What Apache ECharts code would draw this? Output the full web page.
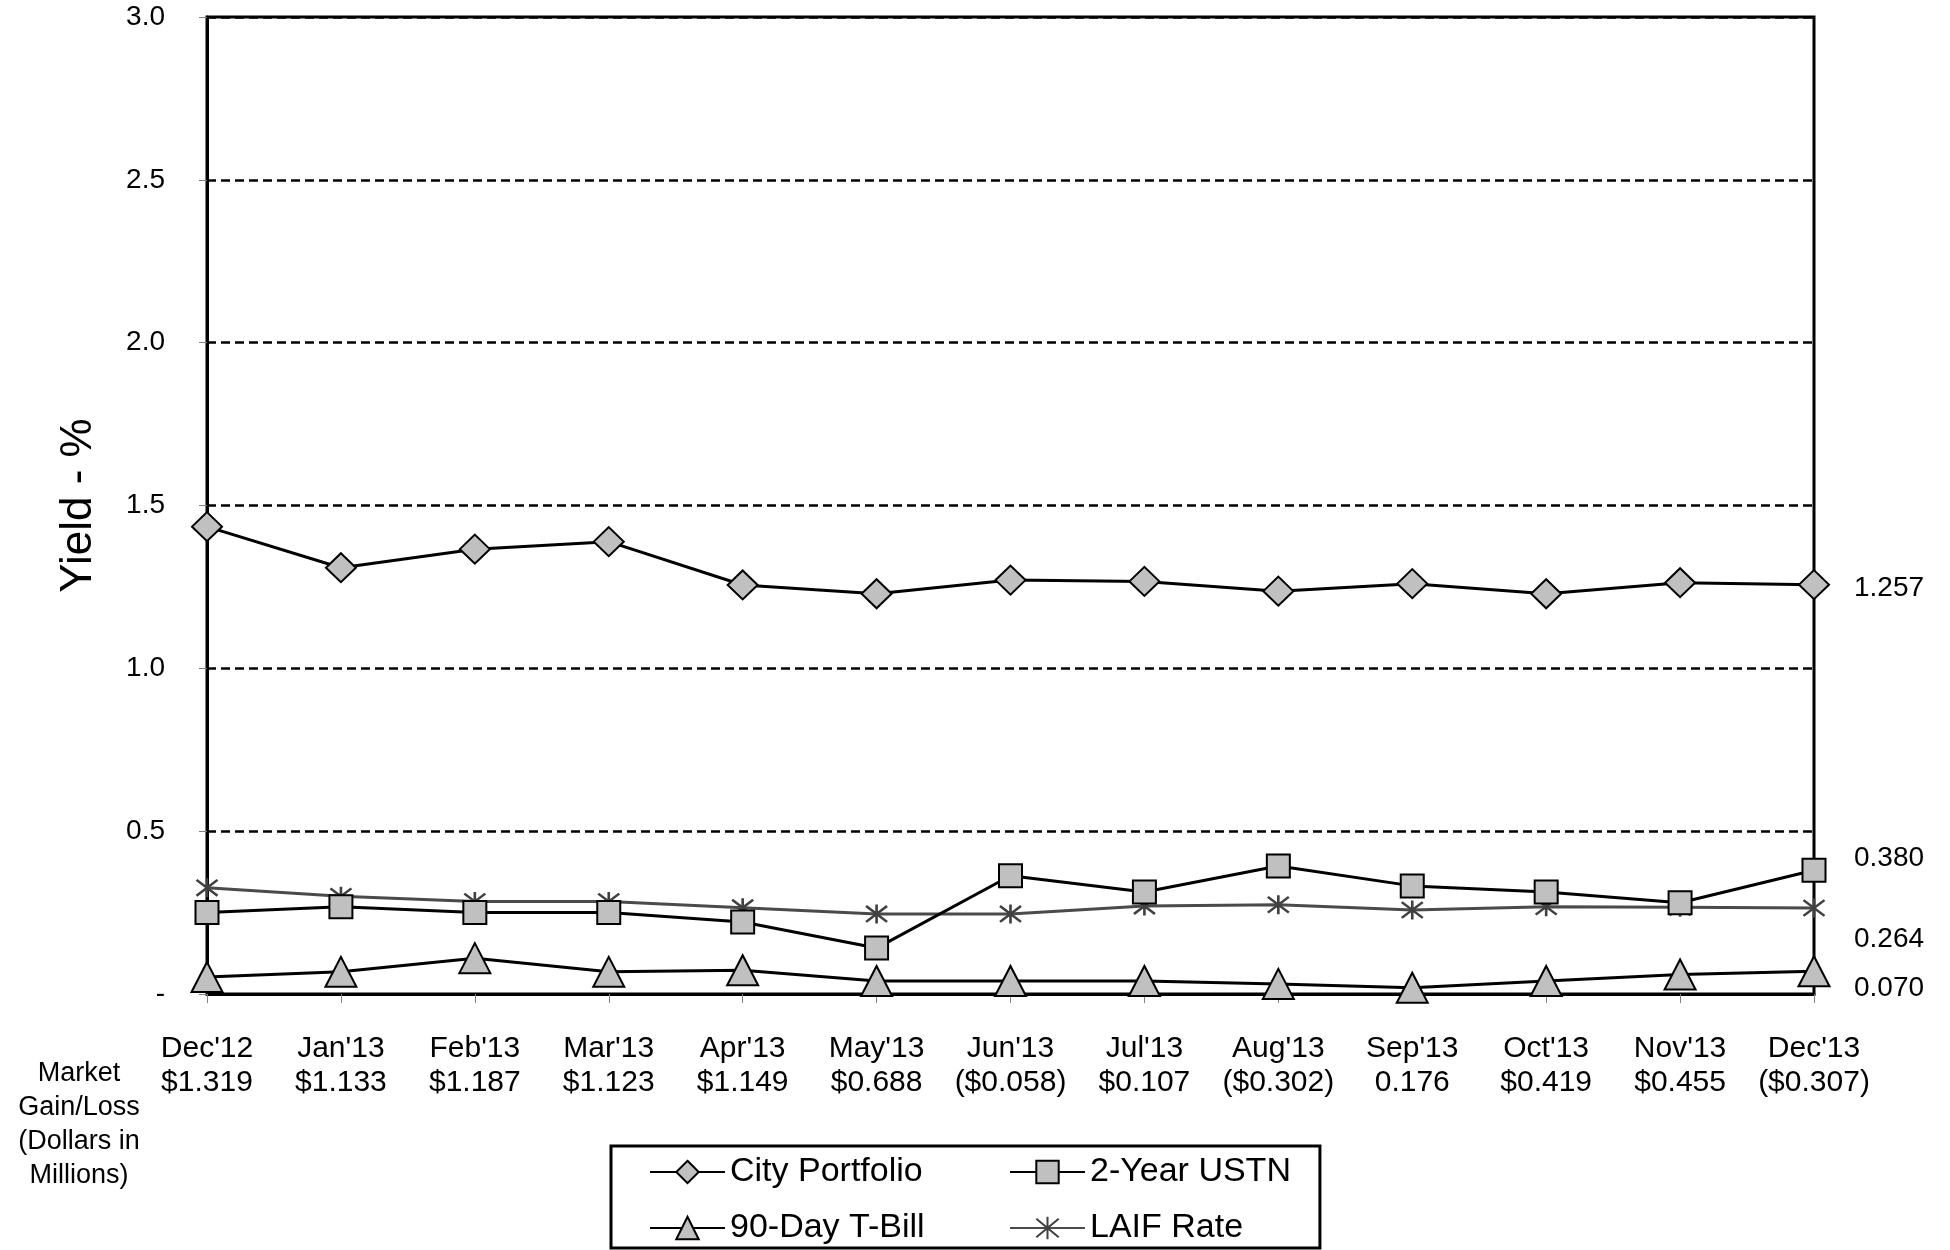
<!DOCTYPE html>
<html>
<head>
<meta charset="utf-8">
<script src="https://cdn.jsdelivr.net/npm/echarts@6/dist/echarts.min.js"></script>
<style>
html,body{margin:0;padding:0;background:#fff;}
#chart{width:1950px;height:1250px;}
</style>
</head>
<body>
<div id="chart"></div>
<script>
const months = ["Dec'12","Jan'13","Feb'13","Mar'13","Apr'13","May'13","Jun'13","Jul'13","Aug'13","Sep'13","Oct'13","Nov'13","Dec'13"];
const gainLoss = ["$1.319","$1.133","$1.187","$1.123","$1.149","$0.688","($0.058)","$0.107","($0.302)","0.176","$0.419","$0.455","($0.307)"];
const cityPortfolio = [1.435,1.309,1.366,1.389,1.256,1.229,1.271,1.267,1.237,1.260,1.229,1.263,1.257];
const ustn2y = [0.250,0.268,0.250,0.250,0.221,0.141,0.363,0.313,0.393,0.332,0.313,0.280,0.380];
const tbill90 = [0.052,0.068,0.110,0.068,0.073,0.040,0.040,0.040,0.031,0.019,0.040,0.060,0.070];
const laif = [0.326,0.300,0.284,0.284,0.265,0.246,0.246,0.270,0.274,0.258,0.268,0.266,0.264];
const yTicks = [0, 0.5, 1.0, 1.5, 2.0, 2.5, 3.0];
const seriesNames = ["City Portfolio","2-Year USTN","90-Day T-Bill","LAIF Rate"];

const FONT = "'Liberation Sans', Arial, sans-serif";
const categories = months.map((m, i) => m + "\n" + gainLoss[i]);
const asterisk = 'path://M0,0 L10,10 M10,0 L0,10 M5,-1 L5,11';

function endLbl(dy) {
  return {
    show: true,
    formatter: p => Number(p.value).toFixed(3),
    fontFamily: FONT, fontSize: 28, color: '#000',
    distance: 0, offset: [40, dy], align: 'left'
  };
}

const chart = echarts.init(document.getElementById('chart'));
chart.setOption({
  backgroundColor: '#fff',
  animation: false,
  grid: { left: 207, right: 136, top: 17, bottom: 256, show: true, borderColor: '#000', borderWidth: 3, backgroundColor: 'transparent' },
  xAxis: {
    type: 'category', data: categories, boundaryGap: false,
    axisLine: { show: true, lineStyle: { color: '#000', width: 3 } },
    axisTick: { show: true, alignWithLabel: true, length: 9, inside: false, lineStyle: { color: '#808080', width: 1 } },
    axisLabel: { fontFamily: FONT, fontSize: 30, lineHeight: 34, color: '#000', margin: 38, interval: 0 },
    splitLine: { show: false }
  },
  yAxis: {
    type: 'value', min: yTicks[0], max: yTicks[yTicks.length - 1], interval: 0.5,
    name: 'Yield - %', nameLocation: 'middle', nameRotate: 90, nameGap: 106,
    nameTextStyle: { fontFamily: FONT, fontSize: 44, color: '#000' },
    axisLine: { show: true, lineStyle: { color: '#000', width: 3 } },
    axisTick: { show: true, length: 8, lineStyle: { color: '#808080', width: 1 } },
    axisLabel: { fontFamily: FONT, fontSize: 28, color: '#000', margin: 42,
      formatter: v => (v === 0 ? '-' : v.toFixed(1)) },
    splitLine: { show: true, lineStyle: { color: '#000', width: 2.5, type: [9, 5] } }
  },
  legend: {
    left: 611, top: 1146, orient: 'horizontal', width: 660,
    padding: [8, 29, 2, 38], borderColor: '#000', borderWidth: 3,
    itemWidth: 75, itemHeight: 28, itemGap: 20,
    textStyle: { fontFamily: FONT, fontSize: 34, color: '#000', lineHeight: 36 },
    data: [
      { name: seriesNames[0], textStyle: { width: 259 } },
      { name: seriesNames[1] },
      { name: seriesNames[2], textStyle: { width: 259 } },
      { name: seriesNames[3] }
    ]
  },
  graphic: [{
    type: 'text', x: 79, y: 1057,
    style: { text: 'Market\nGain/Loss\n(Dollars in\nMillions)', fontFamily: FONT, fontSize: 27, lineHeight: 34, fill: '#000', align: 'center', verticalAlign: 'top' }
  }],
  series: [
    { name: seriesNames[0], type: 'line', data: cityPortfolio, z: 5,
      symbol: 'diamond', symbolSize: [30, 29], showAllSymbol: true,
      lineStyle: { color: '#000', width: 3 },
      itemStyle: { color: '#c0c0c0', borderColor: '#000', borderWidth: 2 },
      endLabel: endLbl(4) },
    { name: seriesNames[1], type: 'line', data: ustn2y, z: 4,
      symbol: 'rect', symbolSize: 23, showAllSymbol: true,
      lineStyle: { color: '#000', width: 3 },
      itemStyle: { color: '#c0c0c0', borderColor: '#000', borderWidth: 2 },
      endLabel: endLbl(-12) },
    { name: seriesNames[2], type: 'line', data: tbill90, z: 4,
      symbol: 'triangle', symbolSize: [31, 30], showAllSymbol: true,
      lineStyle: { color: '#000', width: 3 },
      itemStyle: { color: '#c0c0c0', borderColor: '#000', borderWidth: 2 },
      endLabel: endLbl(17) },
    { name: seriesNames[3], type: 'line', data: laif, z: 3,
      symbol: asterisk, symbolSize: [21, 19], showAllSymbol: true,
      lineStyle: { color: '#4a4a4a', width: 3 },
      itemStyle: { color: 'rgba(0,0,0,0)', borderColor: '#404040', borderWidth: 2.5 },
      endLabel: endLbl(31) }
  ]
});
</script>
</body>
</html>
